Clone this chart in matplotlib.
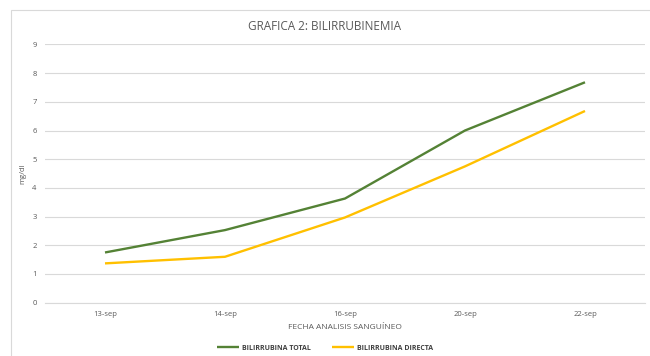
import matplotlib
matplotlib.use('Agg')
import matplotlib.pyplot as plt
import matplotlib.patches as mpatches

# blood test dates and bilirubin levels (mg/dl)
fechas = ['13-sep', '14-sep', '16-sep', '20-sep', '22-sep']
bili_total = [1.75, 2.53, 3.63, 6.0, 7.68]
bili_directa = [1.37, 1.6, 2.97, 4.75, 6.68]
y_ticks = list(range(0, 10))

GREEN = '#548235'
YELLOW = '#FFC000'
GRID = '#D9D9D9'
TEXT = '#595959'

plt.rcParams['font.family'] = ['Open Sans', 'DejaVu Sans']

fig = plt.figure(figsize=(6.5, 3.56), dpi=100)
# chart frame, running off the right and bottom edges
fig.patches.append(mpatches.Rectangle((11 / 650, -0.1), 1.5, 1 - 10 / 356 + 0.1,
                                      transform=fig.transFigure, fill=False,
                                      edgecolor='#D9D9D9', lw=0.8))

ax = fig.add_axes([45 / 650, 1 - 302.7 / 356, 600 / 650, (9 * 28.7) / 356])
x = range(len(fechas))
ax.plot(x, bili_total, color=GREEN, lw=1.7, label='BILIRRUBINA TOTAL', solid_capstyle='butt')
ax.plot(x, bili_directa, color=YELLOW, lw=1.7, label='BILIRRUBINA DIRECTA', solid_capstyle='butt')

ax.set_xlim(-0.5, len(fechas) - 0.5)
ax.set_ylim(0, 9)
ax.set_yticks(y_ticks)
ax.set_xticks(list(x))
ax.set_xticklabels(fechas)
ax.tick_params(axis='both', length=0, labelsize=5.5, labelcolor=TEXT)
ax.tick_params(axis='y', pad=6)
ax.tick_params(axis='x', pad=6)
ax.grid(axis='y', color=GRID, lw=0.8)
ax.set_axisbelow(True)
for s in ['top', 'right', 'left']:
    ax.spines[s].set_visible(False)
ax.spines['bottom'].set_color(GRID)
ax.spines['bottom'].set_linewidth(0.8)

ax.set_ylabel('mg/dl', fontsize=5.5, color=TEXT, labelpad=4)
ax.set_xlabel('FECHA ANALISIS SANGUÍNEO', fontsize=6, color=TEXT, labelpad=4)
fig.text(0.5, 1 - 27 / 356, 'GRAFICA 2: BILIRRUBINEMIA', ha='center', va='center',
         fontsize=8.5, color=TEXT)

leg = fig.legend(loc='center', bbox_to_anchor=(0.5, 1 - 348 / 356), ncol=2, frameon=False,
                 fontsize=5, handlelength=3.2, handletextpad=0.4, columnspacing=3)
for t in leg.get_texts():
    t.set_color('#404040')
    t.set_fontweight('bold')

fig.savefig('out.png', dpi=100)
